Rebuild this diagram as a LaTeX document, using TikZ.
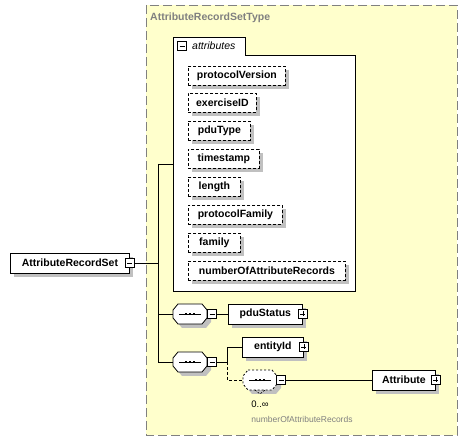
\documentclass[tikz,border=0pt]{standalone}
\usepackage{fontspec}
\setmainfont{Liberation Sans}
\usetikzlibrary{shadows,calc}
\definecolor{bgyellow}{HTML}{FFFFCC}
\definecolor{shadowgray}{HTML}{C0C0C0}
\definecolor{framegray}{HTML}{808080}
\tikzset{
  conn/.style={line width=0.8pt},
  elem/.style={draw=black, fill=white, font=\bfseries\fontsize{10.5}{12}\selectfont,
    minimum height=20pt, inner sep=2pt, anchor=west, line width=0.8pt,
    drop shadow={shadow xshift=4pt, shadow yshift=-4pt, fill=shadowgray, draw=none, opacity=1}},
  attrbox/.style={elem, minimum height=19pt, dash pattern=on 3pt off 2pt},
  pmbox/.style={draw=black, fill=white, minimum size=9pt, inner sep=0pt, line width=0.6pt},
  minusbox/.style={pmbox, path picture={\draw[line width=0.6pt]
      ([xshift=2pt]path picture bounding box.west) -- ([xshift=-2pt]path picture bounding box.east);}},
  plusbox/.style={pmbox, path picture={\draw[line width=0.6pt]
      ([xshift=2pt]path picture bounding box.west) -- ([xshift=-2pt]path picture bounding box.east)
      ([yshift=-2pt]path picture bounding box.north) -- ([yshift=2pt]path picture bounding box.south);}},
}
\newcommand{\seqnode}[3][]{%
  \node[minimum width=34pt, minimum height=20pt, inner sep=0pt] (#2) at #3 {};
  \fill[shadowgray, shift={(#2.center)}, xshift=4pt, yshift=-4pt]
    (-12,-10) -- (12,-10) -- (17,-4) -- (17,4) -- (12,10) -- (-12,10) -- (-17,4) -- (-17,-4) -- cycle;
  \draw[line width=0.8pt, fill=white, shift={(#2.center)}, #1]
    (-12,-10) -- (12,-10) -- (17,-4) -- (17,4) -- (12,10) -- (-12,10) -- (-17,4) -- (-17,-4) -- cycle;
  \draw[line width=0.8pt, shift={(#2.center)}] (-11,0) -- (11,0);
  \foreach \dx in {-4,0,4} {\fill[shift={(#2.center)}] (\dx-1.2,-1.2) rectangle (\dx+1.2,1.2);}
}
\begin{document}
\begin{tikzpicture}[x=1pt,y=-1pt]
\useasboundingbox (0,0) rectangle (467,443);
% type frame
\draw[framegray, fill=bgyellow, dash pattern=on 9pt off 4pt, line width=0.8pt] (146,5) rectangle (457,435);
\node[anchor=west, text=framegray, font=\bfseries\fontsize{10.5}{12}\selectfont, inner sep=0pt] (title) at (150,18) {AttributeRecordSetType};
% attributes group
\draw[line width=0.8pt, fill=white] (173,291) -- (173,37) -- (245,37) -- (245,55) -- (355,55) -- (355,291) -- cycle;
\node[minusbox] (attrm) at (182,46) {};
\node[anchor=west, font=\itshape\fontsize{10.5}{12}\selectfont, inner sep=0pt] (attrlabel) at (192,46) {attributes};
\coordinate (attrsin) at (173,164);
% attribute items
\node[attrbox, minimum width=97pt] (a1) at (188,76) {protocolVersion};
\node[attrbox, minimum width=68pt] (a2) at (188,103) {exerciseID};
\node[attrbox, minimum width=62pt] (a3) at (188,131) {pduType};
\node[attrbox, minimum width=71pt] (a4) at (188,159) {timestamp};
\node[attrbox, minimum width=52pt] (a5) at (188,187) {length};
\node[attrbox, minimum width=94pt] (a6) at (188,215) {protocolFamily};
\node[attrbox, minimum width=52pt] (a7) at (188,243) {family};
\node[attrbox, minimum width=157pt] (a8) at (188,271) {numberOfAttributeRecords};
% root element
\node[elem, minimum width=119pt] (ars) at (10,263) {AttributeRecordSet};
\node[minusbox] (arsm) at (ars.east) {};
% sequences
\seqnode{s1}{(190,314)}
\node[minusbox] (s1m) at (212,314) {};
\node[elem, minimum width=74pt] (pdu) at (228,314) {pduStatus};
\node[plusbox] (pdup) at (pdu.east) {};
\seqnode{s2}{(190,362)}
\node[minusbox] (s2m) at (212,362) {};
\node[elem, minimum width=61pt] (ent) at (242,347) {entityId};
\node[plusbox] (entp) at (ent.east) {};
\seqnode[dash pattern=on 2pt off 2pt]{s3}{(260,380)}
\draw[line width=0.6pt, dash pattern=on 2pt off 1.5pt] ($(s3.center)+(-5,10)$) -- ($(s3.center)+(0,14)$) -- ($(s3.center)+(5,10)$);
\node[minusbox] (s3m) at (281,380) {};
\node[elem, minimum width=63pt] (attr) at (372,380) {Attribute};
\node[plusbox] (attrp) at (attr.east) {};
\node[font=\fontsize{9.5}{11}\selectfont, inner sep=0pt] (occ) at (260,404) {0..∞};
\node[font=\fontsize{8.5}{10}\selectfont, text=framegray, inner sep=0pt] (occname) at (302,419) {numberOfAttributeRecords};
% connectors
\coordinate (busTop) at (158,164);
\coordinate (busBot) at (158,362);
\coordinate (fork) at (227,362);
\draw[conn] (busTop) -- (busBot);
\draw[conn] (busTop) -- (attrsin);
\draw[conn] (arsm.east) -- (arsm.east -| busTop);
\draw[conn] (s1.west -| busTop) -- (s1.west);
\draw[conn] (s2.west -| busTop) -- (s2.west);
\draw[conn] (s1m.east) -- (pdu.west);
\draw[conn] (s2m.east) -- (fork) |- (ent.west);
\draw[conn, dash pattern=on 3pt off 2pt] (fork) |- (s3.west);
\draw[conn] (s3m.east) -- (attr.west);
\end{tikzpicture}
\end{document}
